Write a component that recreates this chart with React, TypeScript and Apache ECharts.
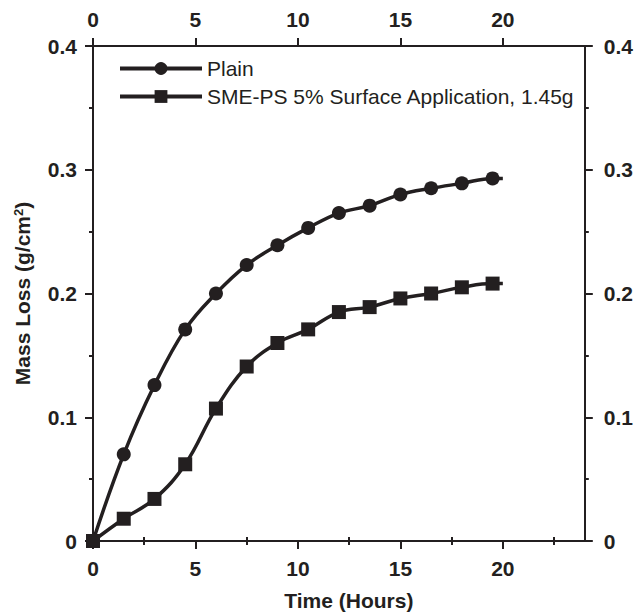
import React, { useEffect, useRef } from "react";
import * as echarts from "echarts";

const hours = [0, 1.5, 3, 4.5, 6, 7.5, 9, 10.5, 12, 13.5, 15, 16.5, 18, 19.5];
const plain = [0, 0.07, 0.126, 0.171, 0.2, 0.223, 0.239, 0.253, 0.265, 0.271, 0.28, 0.285, 0.289, 0.293];
const smePs = [0, 0.018, 0.034, 0.062, 0.107, 0.141, 0.16, 0.171, 0.185, 0.189, 0.196, 0.2, 0.205, 0.208];
const lineEnd = 20;
const xMajorTicks = [0, 5, 10, 15, 20];
const xMinorTicks = [2.5, 7.5, 12.5, 17.5, 22.5];
const seriesNames = ["Plain", "SME-PS 5% Surface Application, 1.45g"];

const INK = "#231f20";
const FONT = "'Liberation Sans', Arial, Helvetica, sans-serif";

function buildData(ys: number[]) {
  const d: any[] = hours.map((h, i) => [h, ys[i]]);
  d.push({ value: [lineEnd, ys[ys.length - 1]], symbol: "none" });
  return d;
}

export default function App() {
  const ref = useRef<HTMLDivElement>(null);
  useEffect(() => {
    if (!ref.current) return;
    const chart = echarts.init(ref.current, undefined, { renderer: "svg" });
    const labelStyle = { color: INK, fontFamily: FONT, fontWeight: "bold" as const, fontSize: 21 };
    const xMain = (pos: "top" | "bottom", name: string) => ({
      type: "value",
      position: pos,
      min: 0,
      max: 24,
      interval: 5,
      name,
      nameLocation: "middle",
      nameGap: 49,
      nameTextStyle: { ...labelStyle, padding: [0, 0, 0, 20] },
      axisLine: { show: true, onZero: false, lineStyle: { color: INK, width: 2 } },
      axisTick: { show: true, inside: false, length: 8, lineStyle: { color: INK, width: 2 }, customValues: xMajorTicks },
      axisLabel: { ...labelStyle, margin: pos === "top" ? 16 : 17, customValues: xMajorTicks },
      splitLine: { show: false },
    });
    const xMinor = (pos: "top" | "bottom") => ({
      type: "value",
      position: pos,
      min: 0,
      max: 24,
      interval: 5,
      axisLine: { show: false },
      axisTick: { show: true, inside: false, length: 4, lineStyle: { color: INK, width: 2 }, customValues: xMinorTicks },
      axisLabel: { show: false },
      splitLine: { show: false },
    });
    const yAx = (pos: "left" | "right", withName: boolean) => ({
      type: "value",
      position: pos,
      min: 0,
      max: 0.4,
      interval: 0.1,
      name: withName ? "{a|Mass Loss (g/cm}{s|2}{a|)}" : "",
      nameLocation: "middle",
      nameGap: 60,
      nameTextStyle: {
        rich: {
          a: { ...labelStyle },
          s: { ...labelStyle, fontSize: 13, verticalAlign: "top", padding: [0, 0, 8, 0] },
        },
      },
      axisLine: { show: true, onZero: false, lineStyle: { color: INK, width: 2 } },
      axisTick: { show: true, inside: false, length: 8, lineStyle: { color: INK, width: 2 } },
      minorTick: { show: true, splitNumber: 2, length: 4, lineStyle: { color: INK, width: 2 } },
      axisLabel: {
        ...labelStyle,
        margin: pos === "right" ? 19 : 16,
        formatter: (v: number) => (v === 0 ? "0" : v.toFixed(1)),
      },
      splitLine: { show: false },
      minorSplitLine: { show: false },
    });
    const mkSeries = (name: string, ys: number[], symbol: string, size: number) => ({
      name,
      type: "line",
      xAxisIndex: 0,
      yAxisIndex: 0,
      data: buildData(ys),
      smooth: 0.4,
      symbol,
      symbolSize: size,
      showAllSymbol: true,
      lineStyle: { color: INK, width: 3.5 },
      itemStyle: { color: INK },
      emphasis: { disabled: true },
    });
    chart.setOption({
      animation: false,
      backgroundColor: "#ffffff",
      grid: { left: 93, right: 49, top: 46, bottom: 75, containLabel: false },
      legend: {
        orient: "vertical",
        left: 113,
        top: 53,
        itemWidth: 82,
        itemHeight: 16,
        itemGap: 7,
        lineStyle: { width: 4, color: INK },
        textStyle: { color: INK, fontFamily: FONT, fontSize: 21 },
        data: seriesNames,
        selectedMode: false,
      },
      xAxis: [xMain("bottom", "Time (Hours)"), xMain("top", ""), xMinor("bottom"), xMinor("top")],
      yAxis: [yAx("left", true), yAx("right", false)],
      series: [
        mkSeries(seriesNames[0], plain, "circle", 14),
        mkSeries(seriesNames[1], smePs, "rect", 14),
      ],
    });
    return () => chart.dispose();
  }, []);
  return <div ref={ref} style={{ position: "absolute", left: 0, top: 0, width: 636, height: 616 }} />;
}
